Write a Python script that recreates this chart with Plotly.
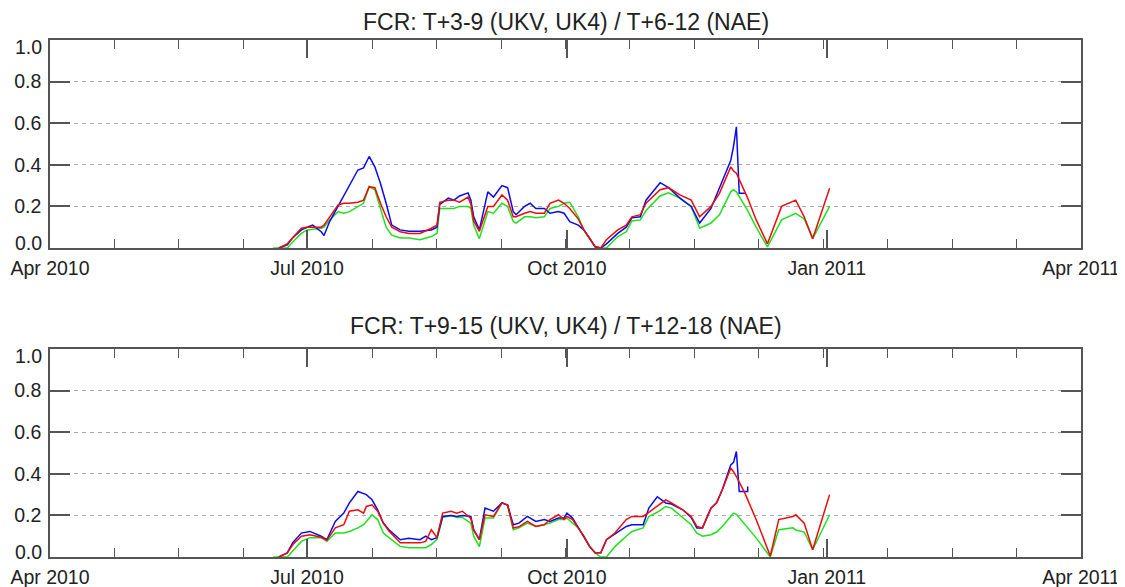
import plotly.graph_objects as go

# ---------------- data ----------------
TITLE_TOP = "FCR: T+3-9 (UKV, UK4) / T+6-12 (NAE)"
TITLE_BOT = "FCR: T+9-15 (UKV, UK4) / T+12-18 (NAE)"

TICK_VALS = ["2010-04-01", "2010-07-01", "2010-10-01", "2011-01-01", "2011-04-01"]
TICK_TEXT = ["Apr 2010", "Jul 2010", "Oct 2010", "Jan 2011", "Apr 2011"]
Y_TICKS = [0.0, 0.2, 0.4, 0.6, 0.8, 1.0]

TOP_DATES = ["2010-06-19", "2010-06-21", "2010-06-24", "2010-06-26", "2010-06-29", "2010-07-01",
             "2010-07-03", "2010-07-06", "2010-07-07", "2010-07-09", "2010-07-12", "2010-07-14",
             "2010-07-16", "2010-07-19", "2010-07-21", "2010-07-23", "2010-07-25", "2010-07-27",
             "2010-07-29", "2010-07-31", "2010-08-03", "2010-08-06", "2010-08-10", "2010-08-14",
             "2010-08-16", "2010-08-17", "2010-08-20", "2010-08-22", "2010-08-24", "2010-08-27",
             "2010-08-28", "2010-08-29", "2010-08-31", "2010-09-03", "2010-09-05", "2010-09-08",
             "2010-09-10", "2010-09-12", "2010-09-13", "2010-09-16", "2010-09-18", "2010-09-20",
             "2010-09-23", "2010-09-25", "2010-09-28", "2010-09-30", "2010-10-02", "2010-10-05",
             "2010-10-07", "2010-10-09", "2010-10-11", "2010-10-13", "2010-10-15", "2010-10-19",
             "2010-10-22", "2010-10-24", "2010-10-27", "2010-10-29", "2010-11-03", "2010-11-06",
             "2010-11-10", "2010-11-14", "2010-11-17", "2010-11-21", "2010-11-24", "2010-11-28",
             "2010-11-29", "2010-11-30"]
TOP_UKV = [None, 0.0, .015, .05, .087, .10, .11, .078, .06, .127, .2, .25, .295, .375, .385, .44,
           .39, .31, .215, .11, .087, .08, .08, .087, .10, .21, .24, .23, .25, .265, .23, .15, .087,
           .27, .245, .30, .29, .175, .16, .2, .215, .19, .19, .167, .175, .167, .127, .11, .087,
           .048, .006, 0.0, .02, .07, .10, .145, .15, .23, .314, .29, .24, .2, .12, .19, .29, .42,
           .49, .583]
TOP_UK4 = [None, 0.0, .02, .05, .095, .10, .10, .10, .11, .15, .207, .215, .215, .22, .23, .295,
           .29, .215, .15, .10, .078, .07, .07, .095, .11, .22, .23, .23, .22, .245, .21, .13, .08,
           .20, .20, .255, .23, .15, .15, .167, .175, .167, .167, .215, .23, .215, .19, .14, .087,
           .048, .006, 0.0, .04, .087, .11, .15, .16, .215, .28, .29, .255, .23, .15, .2, .263,
           .39, .37, .36]
TOP_NAE = [0.0, 0.0, 0.0, .03, .07, .087, .09, .095, .10, .135, .175, .167, .175, .2, .215, .295,
           .28, .19, .10, .062, .048, .048, .04, .055, .07, .19, .19, .19, .2, .2, .19, .11, .045,
           .175, .167, .215, .2, .127, .12, .15, .15, .145, .15, .19, .2, .215, .22, .15, .087,
           .048, .006, 0.0, 0.0, .055, .078, .13, .135, .18, .25, .265, .24, .2, .095, .12, .16,
           .27, .28, .27]
TOP_UKV_END_DATES = ["2010-12-01", "2010-12-03"]
TOP_UKV_END = [.263, .263]
TOP_LATE_DATES = ["2010-12-04", "2010-12-07", "2010-12-11", "2010-12-16", "2010-12-21",
                  "2010-12-24", "2010-12-27", "2011-01-02"]
TOP_UK4_LATE = [.24, .135, .02, .2, .23, .15, .045, .287]
TOP_NAE_LATE = [.18, .10, .005, .135, .167, .14, .045, .2]

BOT_DATES = ["2010-06-19", "2010-06-21", "2010-06-24", "2010-06-26", "2010-06-29", "2010-07-02",
             "2010-07-06", "2010-07-08", "2010-07-11", "2010-07-14", "2010-07-16", "2010-07-19",
             "2010-07-21", "2010-07-22", "2010-07-24", "2010-07-26", "2010-07-28", "2010-07-30",
             "2010-08-03", "2010-08-06", "2010-08-10", "2010-08-12", "2010-08-14", "2010-08-16",
             "2010-08-18", "2010-08-21", "2010-08-23", "2010-08-25", "2010-08-28", "2010-08-29",
             "2010-08-31", "2010-09-02", "2010-09-05", "2010-09-08", "2010-09-10", "2010-09-12",
             "2010-09-14", "2010-09-17", "2010-09-20", "2010-09-23", "2010-09-25", "2010-09-28",
             "2010-09-30", "2010-10-01", "2010-10-03", "2010-10-05", "2010-10-07", "2010-10-09",
             "2010-10-11", "2010-10-13", "2010-10-15", "2010-10-18", "2010-10-22", "2010-10-24",
             "2010-10-28", "2010-10-30", "2010-11-02", "2010-11-05", "2010-11-07", "2010-11-11",
             "2010-11-14", "2010-11-16", "2010-11-18", "2010-11-21", "2010-11-23", "2010-11-25",
             "2010-11-28", "2010-11-29", "2010-11-30"]
BOT_UKV = [None, 0.0, .02, .07, .115, .123, .10, .083, .171, .211, .26, .315, .307, .30, .275,
           .227, .163, .131, .083, .09, .083, .10, .083, .093, .195, .20, .195, .20, .195, .13,
           .083, .235, .22, .26, .25, .155, .163, .195, .171, .18, .171, .187, .187, .211, .187,
           .14, .10, .051, .02, .02, .083, .11, .147, .155, .155, .235, .29, .26, .255, .227, .19,
           .14, .14, .235, .26, .323, .443, .455, .507]
BOT_UK4 = [None, 0.0, .02, .06, .10, .107, .095, .08, .14, .155, .22, .227, .211, .243, .251,
           .22, .163, .125, .068, .068, .068, .075, .131, .093, .211, .22, .21, .22, .185, .13,
           .083, .203, .195, .26, .25, .14, .145, .171, .147, .155, .18, .203, .18, .195, .18,
           .14, .10, .051, .02, .02, .083, .115, .18, .195, .195, .215, .243, .275, .26, .227,
           .195, .147, .14, .235, .26, .323, .427, .41, .387]
BOT_NAE = [0.0, 0.0, 0.0, .03, .075, .093, .093, .075, .115, .115, .123, .14, .155, .171, .203,
           .18, .115, .093, .051, .045, .045, .045, .06, .085, .19, .20, .19, .19, .163, .10,
           .05, .187, .187, .26, .25, .131, .14, .163, .147, .155, .163, .18, .18, .187, .163,
           .14, .10, .051, .02, 0.0, 0.0, .05, .10, .123, .14, .195, .215, .243, .235, .187,
           .155, .115, .10, .107, .12, .147, .195, .211, .205]
BOT_UKV_END_DATES = ["2010-12-01", "2010-12-04", "2010-12-04"]
BOT_UKV_END = [.315, .315, .339]
BOT_LATE_DATES = ["2010-12-03", "2010-12-07", "2010-12-12", "2010-12-15", "2010-12-20",
                  "2010-12-21", "2010-12-24", "2010-12-27", "2011-01-02"]
BOT_UK4_LATE = [.307, .18, .005, .18, .195, .203, .163, .035, .30]
BOT_NAE_LATE = [.155, .092, 0.0, .131, .14, .13, .12, .035, .203]

# ---------------- styling ----------------
BLUE, RED, GREEN = "#0a0aee", "#ee0a0a", "#1fe01f"
FRAME = "#555555"
TEXT = "#222222"
FONT = "Liberation Sans, Arial, Helvetica, sans-serif"
LW = 1.5

fig = go.Figure()

def add_panel(xa, ya, dates, ukv, uk4, nae, ukv_end_d, ukv_end, late_d, uk4_late, nae_late):
    fig.add_trace(go.Scatter(x=dates + late_d, y=nae + nae_late, mode="lines", name="NAE",
                             line=dict(color=GREEN, width=LW), xaxis=xa, yaxis=ya))
    fig.add_trace(go.Scatter(x=dates + ukv_end_d, y=ukv + ukv_end, mode="lines", name="UKV",
                             line=dict(color=BLUE, width=LW), xaxis=xa, yaxis=ya))
    fig.add_trace(go.Scatter(x=dates + late_d, y=uk4 + uk4_late, mode="lines", name="UK4",
                             line=dict(color=RED, width=LW), xaxis=xa, yaxis=ya))

add_panel("x", "y", TOP_DATES, TOP_UKV, TOP_UK4, TOP_NAE,
          TOP_UKV_END_DATES, TOP_UKV_END, TOP_LATE_DATES, TOP_UK4_LATE, TOP_NAE_LATE)
add_panel("x2", "y2", BOT_DATES, BOT_UKV, BOT_UK4, BOT_NAE,
          BOT_UKV_END_DATES, BOT_UKV_END, BOT_LATE_DATES, BOT_UK4_LATE, BOT_NAE_LATE)

# The page body shifts the figure by 8px; the margins compensate for that.
OFFSET = 8
W, H = 1125, 587
ML, MR, MT, MB = 42, 52, 32, 38
PH = H - MT - MB
TICKFONT = dict(family=FONT, size=19.5, color=TEXT)

def xaxis(anchor):
    return dict(type="date", range=["2010-04-01", "2011-04-01"], anchor=anchor,
                tickvals=TICK_VALS, ticktext=TICK_TEXT, ticks="inside", ticklen=18,
                tickwidth=1.5, tickcolor=FRAME, showline=True, linecolor=FRAME, linewidth=1.6,
                mirror="allticks", showgrid=False, zeroline=False, ticklabelstandoff=2,
                automargin=False, tickfont=TICKFONT,
                minor=dict(ticks="inside", ticklen=9, tickwidth=1.3, tickcolor=FRAME,
                           tick0="2010-04-01", dtick=1971000000, showgrid=False))

# end labels (0.0 and 1.0) are nudged inward as in the reference, so they are drawn separately
Y_TEXT = ["" if v in (Y_TICKS[0], Y_TICKS[-1]) else f"{v:.1f}" for v in Y_TICKS]

def yaxis(anchor, domain):
    return dict(range=[0, 1], domain=domain, anchor=anchor, tickvals=Y_TICKS, ticktext=Y_TEXT,
                ticks="inside", ticklen=20, tickwidth=1.5, tickcolor=FRAME,
                showline=True, linecolor=FRAME, linewidth=1.6, mirror="allticks",
                showgrid=True, gridcolor="#a8a8a8", gridwidth=1, griddash="4px,4px",
                zeroline=False, ticklabelstandoff=3, automargin=False, tickfont=TICKFONT)

top_dom = [1 - 208 / PH, 1.0]
bot_dom = [0.0, 208 / PH]

def title_y(screen_y):
    return 1 - (screen_y - OFFSET - MT) / PH

annotations = []
for txt, sy in ((TITLE_TOP, 22), (TITLE_BOT, 326)):
    annotations.append(dict(text=txt, x=0.5, y=title_y(sy), xref="paper", yref="paper",
                            showarrow=False, xanchor="center", yanchor="middle",
                            font=dict(family=FONT, size=23, color=TEXT)))
for yref in ("y", "y2"):
    for v, shift in ((Y_TICKS[-1], -7), (Y_TICKS[0], 5)):
        annotations.append(dict(text=f"{v:.1f}", x=0, y=v, xref="paper", yref=yref,
                                xanchor="right", yanchor="middle", xshift=-6, yshift=shift,
                                showarrow=False, font=TICKFONT))

fig.update_layout(
    width=W, height=H, showlegend=False,
    margin=dict(l=ML, r=MR, t=MT, b=MB, autoexpand=False),
    paper_bgcolor="white", plot_bgcolor="white",
    xaxis=xaxis("y"), yaxis=yaxis("x", top_dom),
    xaxis2=xaxis("y2"), yaxis2=yaxis("x2", bot_dom),
    annotations=annotations,
)

fig.write_html("out.html")
